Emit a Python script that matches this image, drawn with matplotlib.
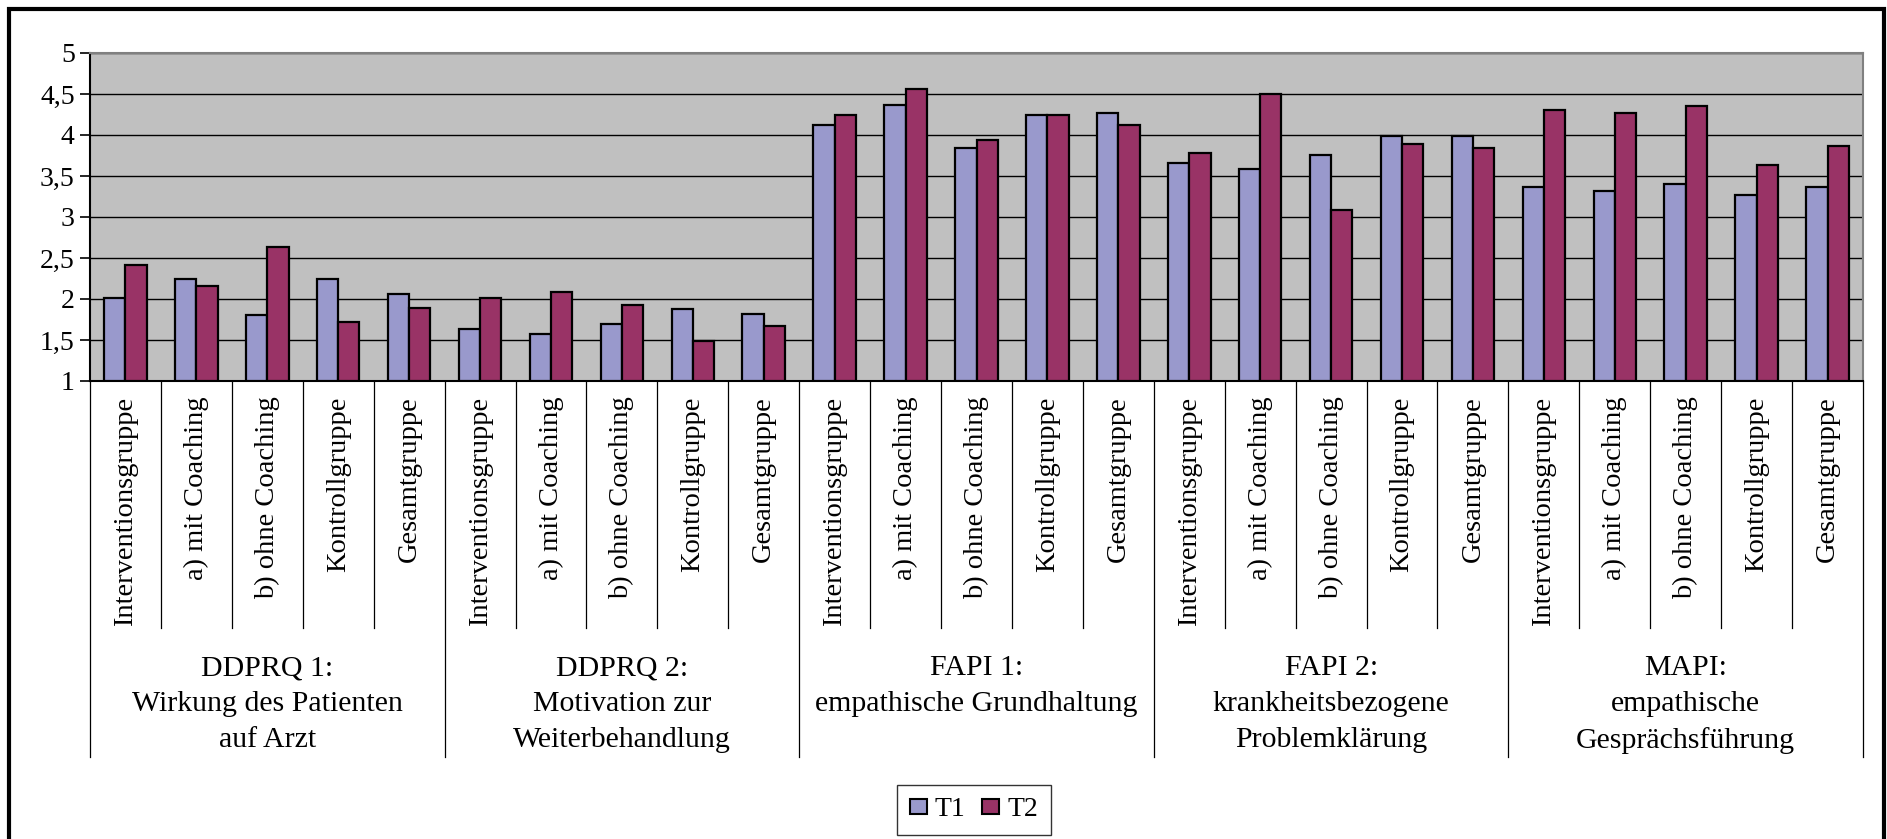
import matplotlib
matplotlib.use("Agg")
import matplotlib.pyplot as plt
from matplotlib.patches import Rectangle, Patch

plt.rcParams['font.family'] = ['Liberation Serif', 'DejaVu Serif']

groups = [
    ["DDPRQ 1:", "Wirkung des Patienten", "auf Arzt"],
    ["DDPRQ 2:", "Motivation zur", "Weiterbehandlung"],
    ["FAPI 1:", "empathische Grundhaltung"],
    ["FAPI 2:", "krankheitsbezogene", "Problemklärung"],
    ["MAPI:", "empathische", "Gesprächsführung"],
]
subgroups = ["Interventionsgruppe", "a) mit Coaching", "b) ohne Coaching",
             "Kontrollgruppe", "Gesamtgruppe"]

t1 = [2.01, 2.24, 1.80, 2.24, 2.06,
      1.64, 1.57, 1.70, 1.88, 1.82,
      4.12, 4.37, 3.84, 4.25, 4.27,
      3.66, 3.58, 3.76, 3.99, 3.99,
      3.37, 3.32, 3.40, 3.27, 3.37]
t2 = [2.42, 2.16, 2.63, 1.72, 1.89,
      2.01, 2.08, 1.93, 1.49, 1.67,
      4.25, 4.56, 3.94, 4.25, 4.12,
      3.78, 4.50, 3.09, 3.89, 3.84,
      4.30, 4.27, 4.35, 3.63, 3.86]

yticks = [1, 1.5, 2, 2.5, 3, 3.5, 4, 4.5, 5]
ytick_labels = ["1", "1,5", "2", "2,5", "3", "3,5", "4", "4,5", "5"]

c1 = '#9999CC'
c2 = '#993366'

W, H = 1887, 839
fig = plt.figure(figsize=(W / 100, H / 100), dpi=100)
ax = fig.add_axes([90 / W, 1 - 381 / H, 1773 / W, 328 / H])
ax.set_facecolor('#C0C0C0')

n = len(t1)
w = 0.3
x = [i + 0.5 for i in range(n)]
ax.bar([v - w / 2 for v in x], [v - 1 for v in t1], w, bottom=1, color=c1,
       edgecolor='black', linewidth=1.6, zorder=3)
ax.bar([v + w / 2 for v in x], [v - 1 for v in t2], w, bottom=1, color=c2,
       edgecolor='black', linewidth=1.6, zorder=3)

ax.set_xlim(0, n)
ax.set_ylim(1, 5)
ax.set_yticks(yticks)
ax.set_yticklabels(ytick_labels, fontsize=20)
ax.set_xticks([])
ax.yaxis.grid(True, color='black', linewidth=1)
ax.set_axisbelow(True)
ax.tick_params(axis='y', direction='out', length=7, width=1.2, pad=4)

for s in ['left', 'bottom']:
    ax.spines[s].set_color('black')
    ax.spines[s].set_linewidth(1.5)
for s in ['top', 'right']:
    ax.spines[s].set_color('#808080')
    ax.spines[s].set_linewidth(1.5)

# category table under the axis
tr = ax.get_xaxis_transform()
for i in range(n + 1):
    depth = -1.146 if i % 5 == 0 else -0.753
    ax.plot([i, i], [0, depth], color='black', lw=0.9, transform=tr, clip_on=False)

for i in range(n):
    ax.text(i + 0.5, -0.047, subgroups[i % 5], rotation=90, ha='center', va='top',
            fontsize=20.5, transform=tr)

for g, lines in enumerate(groups):
    for k, line in enumerate(lines):
        ax.text(g * 5 + 2.5, -0.875 - 0.11 * k, line, ha='center', va='center',
                fontsize=21.5, transform=tr)

handles = [Patch(facecolor=c1, edgecolor='black', linewidth=1.5),
           Patch(facecolor=c2, edgecolor='black', linewidth=1.5)]
leg = fig.legend(handles, ["T1", "T2"], loc='center', bbox_to_anchor=(974 / W, 1 - 810 / H),
                 ncol=2, fontsize=20, frameon=True, fancybox=False, handlelength=0.6,
                 handleheight=0.45, handletextpad=0.3, columnspacing=0.6, borderpad=0.45)
leg.get_frame().set_edgecolor('black')
leg.get_frame().set_linewidth(1.0)

fig.add_artist(Rectangle((9 / W, -0.02), 1875 / W, 1.02 - 9 / H,
                         transform=fig.transFigure, fill=False, edgecolor='black', lw=3))

fig.savefig('out.png', dpi=100)
